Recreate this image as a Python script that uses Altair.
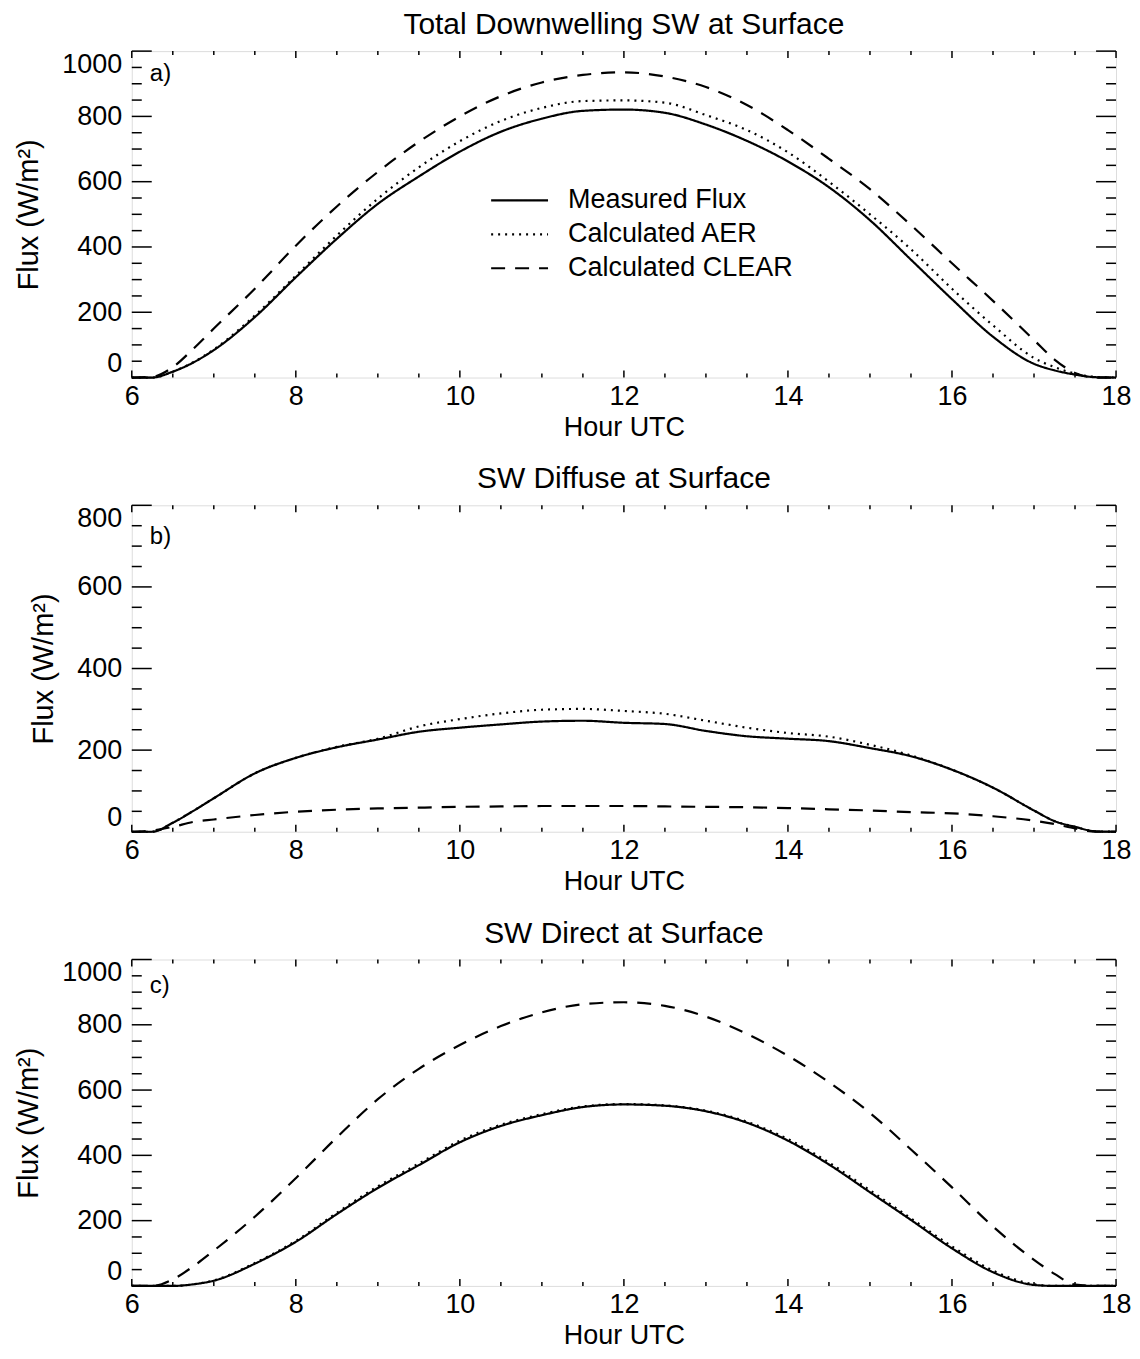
import altair as alt
import pandas as pd

FONT = "Liberation Sans"

HOURS = [6.0, 6.25, 6.5, 6.75, 7.0, 7.5, 8.0, 8.5, 9.0, 9.5, 10.0, 10.5, 11.0, 11.5,
         12.0, 12.5, 13.0, 13.5, 14.0, 14.5, 15.0, 15.5, 16.0, 16.5, 17.0, 17.25,
         17.5, 17.75, 18.0]
SERIES = ["Measured Flux", "Calculated AER", "Calculated CLEAR"]

# Panel a: Total Downwelling SW at Surface
A_MEAS = [0, 0, 18, 46, 84, 185, 307, 425, 532, 616, 692, 753, 793, 817, 821, 811, 775,
          725, 662, 583, 482, 361, 240, 125, 42, 22, 9, 1, 0]
A_AER = [0, 0, 18, 47, 86, 190, 312, 435, 548, 644, 724, 786, 826, 847, 849, 842, 804,
         758, 690, 600, 500, 393, 272, 160, 60, 32, 12, 2, 0]
A_CLEAR = [0, 2, 32, 88, 150, 272, 404, 524, 630, 722, 800, 862, 904, 927, 935, 922, 890,
           835, 758, 670, 577, 467, 350, 235, 115, 55, 14, 0, 0]

# Panel b: SW Diffuse at Surface
B_MEAS = [0, 0, 22, 51, 82, 143, 181, 207, 226, 245, 255, 263, 270, 272, 267, 264, 247,
          234, 228, 222, 205, 185, 152, 108, 52, 26, 12, 1, 0]
B_AER = [0, 0, 22, 51, 82, 143, 181, 208, 228, 258, 276, 290, 299, 301, 296, 289, 272,
         255, 242, 233, 213, 187, 152, 108, 52, 26, 12, 1, 0]
B_CLEAR = [0, 3, 12, 24, 30, 41, 49, 54, 57, 59, 61, 62, 63, 63, 63, 62, 61, 60, 58, 55,
           52, 48, 45, 38, 27, 19, 8, 0, 0]

# Panel c: SW Direct at Surface
C_MEAS = [0, 0, 0, 5, 16, 68, 135, 220, 300, 370, 440, 490, 523, 548, 556, 552, 535, 500,
          445, 372, 287, 202, 115, 42, 3, 0, 0, 0, 0]
C_AER = [0, 0, 0, 5, 17, 70, 138, 224, 305, 375, 445, 494, 526, 550, 557, 553, 537, 503,
         450, 378, 293, 207, 121, 47, 5, 0, 0, 0, 0]
C_CLEAR = [0, 0, 20, 60, 108, 212, 330, 455, 572, 665, 738, 796, 838, 863, 869, 858, 825,
           772, 705, 624, 530, 418, 302, 182, 80, 37, 4, 0, 0]

TITLES = ["Total Downwelling SW at Surface", "SW Diffuse at Surface", "SW Direct at Surface"]
PANEL_LABELS = ["a)", "b)", "c)"]
Y_MAX = [1000, 800, 1000]
LABEL_POS = [(6.22, 930), (6.22, 722), (6.22, 918)]

X_MAJOR = [6, 8, 10, 12, 14, 16, 18]
X_MINOR = [6.5, 7, 7.5, 8.5, 9, 9.5, 10.5, 11, 11.5, 12.5, 13, 13.5, 14.5, 15, 15.5,
           16.5, 17, 17.5]
DASHES = [[1, 0], [2, 5], [14, 10]]

W, H = 986, 327
XT_MAJ, XT_MIN = 7, 4
YT_MAJ, YT_MIN = 20, 10


def panel(idx, meas, aer, clear, show_legend):
    ymax = Y_MAX[idx]
    rows = []
    for name, vals in zip(SERIES, [meas, aer, clear]):
        for h, v in zip(HOURS, vals):
            rows.append({"hour": h, "flux": v, "series": name})
    df = pd.DataFrame(rows)

    xscale = alt.Scale(domain=[6, 18], nice=False, zero=False)
    yscale = alt.Scale(domain=[0, ymax], nice=False)
    y_major = list(range(0, ymax + 1, 200))
    y_minor = [v for v in range(0, ymax + 1, 50) if v % 200 != 0]

    if show_legend:
        legend = alt.Legend(title=None, orient="none", legendX=368, legendY=129,
                            symbolType="M-1.5,0H1.5", symbolSize=1444, symbolStrokeWidth=2.2,
                            symbolStrokeColor="black", symbolFillColor="transparent",
                            labelFontSize=27, labelFont=FONT,
                            labelColor="black", labelOffset=28, rowPadding=0,
                            labelLimit=400, padding=0)
    else:
        legend = None

    lines = alt.Chart(df).mark_line(color="black", strokeWidth=2.2, interpolate="monotone").encode(
        x=alt.X("hour:Q", scale=xscale,
                axis=alt.Axis(values=X_MAJOR, format="d", labelFlush=False, ticks=False,
                              domain=False, grid=False, labelFontSize=27, labelFont=FONT,
                              labelColor="black", labelPadding=6, title="Hour UTC",
                              titleFontSize=27, titleFont=FONT, titleFontWeight="normal",
                              titleColor="black", titlePadding=5)),
        y=alt.Y("flux:Q", scale=yscale,
                axis=alt.Axis(values=y_major, format="d", labelFlush=True, ticks=False,
                              domain=False, grid=False, labelFontSize=27, labelFont=FONT,
                              labelColor="black", labelPadding=10, title="Flux (W/m²)",
                              titleFontSize=29, titleFont=FONT, titleFontWeight="normal",
                              titleColor="black", titlePadding=18)),
        strokeDash=alt.StrokeDash("series:N", scale=alt.Scale(domain=SERIES, range=DASHES),
                                  legend=legend),
        detail="series:N",
    )

    layers = [lines]
    # x ticks (inside, bottom and top)
    for vals, ln in [(X_MAJOR, XT_MAJ), (X_MINOR, XT_MIN)]:
        tdf = pd.DataFrame({"hour": vals})
        layers.append(alt.Chart(tdf).mark_rule(color="black", strokeWidth=1.5).encode(
            x=alt.X("hour:Q", scale=xscale), y=alt.value(H), y2=alt.value(H - ln)))
        layers.append(alt.Chart(tdf).mark_rule(color="black", strokeWidth=1.5).encode(
            x=alt.X("hour:Q", scale=xscale), y=alt.value(0), y2=alt.value(ln)))
    # y ticks (inside, left and right)
    for vals, ln in [(y_major, YT_MAJ), (y_minor, YT_MIN)]:
        tdf = pd.DataFrame({"flux": vals})
        layers.append(alt.Chart(tdf).mark_rule(color="black", strokeWidth=1.5).encode(
            y=alt.Y("flux:Q", scale=yscale), x=alt.value(0), x2=alt.value(ln)))
        layers.append(alt.Chart(tdf).mark_rule(color="black", strokeWidth=1.5).encode(
            y=alt.Y("flux:Q", scale=yscale), x=alt.value(W), x2=alt.value(W - ln)))
    # panel label
    lx, ly = LABEL_POS[idx]
    ldf = pd.DataFrame({"hour": [lx], "flux": [ly], "txt": [PANEL_LABELS[idx]]})
    layers.append(alt.Chart(ldf).mark_text(align="left", baseline="middle", fontSize=24,
                                           font=FONT, color="black").encode(
        x=alt.X("hour:Q", scale=xscale), y=alt.Y("flux:Q", scale=yscale), text="txt:N"))

    return alt.layer(*layers).properties(
        width=W, height=H,
        title=alt.TitleParams(TITLES[idx], fontSize=30, font=FONT, fontWeight="normal",
                              color="black", offset=10, anchor="middle", frame="group"),
    )


pa = panel(0, A_MEAS, A_AER, A_CLEAR, True)
pb = panel(1, B_MEAS, B_AER, B_CLEAR, False)
pc = panel(2, C_MEAS, C_AER, C_CLEAR, False)

chart = alt.vconcat(pa, pb, pc, spacing=128, bounds="flush").resolve_scale(
    strokeDash="independent").resolve_legend(strokeDash="independent").properties(
    padding={"left": 6, "top": 0, "right": 0, "bottom": 0}
).configure_view(stroke="black", strokeWidth=2).configure(background="white")

chart.save("out.html", embed_options={"renderer": "svg", "actions": False})
